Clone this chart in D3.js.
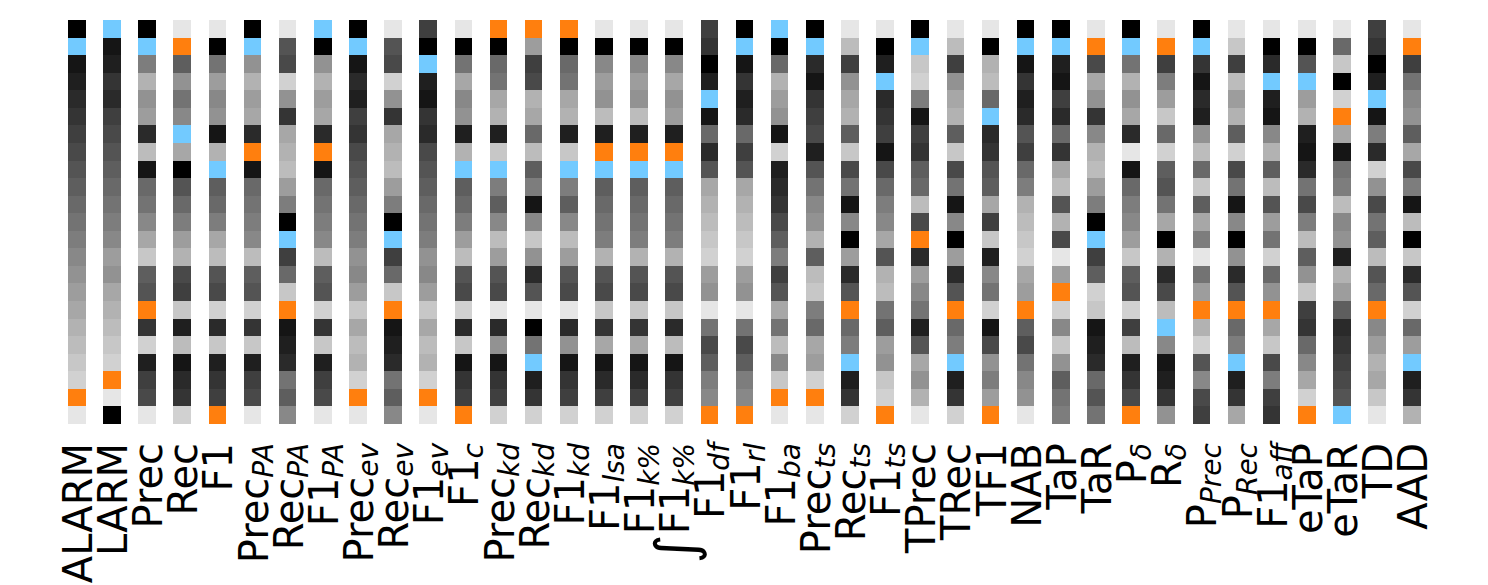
<!DOCTYPE html>
<html>
<head>
<meta charset="utf-8">
<script src="https://cdn.jsdelivr.net/npm/d3@7"></script>
<style>
  html, body { margin: 0; padding: 0; background: #ffffff; }
  svg { display: block; }
  text { font-family: "DejaVu Sans", sans-serif; }
</style>
</head>
<body>
<div id="chart"></div>
<script>
// ---- data -------------------------------------------------------------
// metric labels: prefix, base text, italic subscript
const metricPrefix = ["", "", "", "", "", "", "", "", "", "", "", "", "", "", "", "", "", "∫", "", "", "", "", "", "", "", "", "", "", "", "", "", "", "", "", "", "", "", "", ""];
const metricBase = ["ALARM", "LARM", "Prec", "Rec", "F1", "Prec", "Rec", "F1", "Prec", "Rec", "F1", "F1", "Prec", "Rec", "F1", "F1", "F1", "F1", "F1", "F1", "F1", "Prec", "Rec", "F1", "TPrec", "TRec", "TF1", "NAB", "TaP", "TaR", "P", "R", "P", "P", "F1", "eTaP", "eTaR", "TD", "AAD"];
const metricSub = ["", "", "", "", "", "PA", "PA", "PA", "ev", "ev", "ev", "c", "kd", "kd", "kd", "lsa", "k%", "k%", "df", "rl", "ba", "ts", "ts", "ts", "", "", "", "", "", "", "δ", "δ", "Prec", "Rec", "aff", "", "", "", ""];

// 23 rows (items) in the displayed order, top to bottom
const rowIds = d3.range(23);

// rank of every item under each metric (0 = best … 22 = worst), columns in metric order
const ranks = [
  [0,1,2,3,4,5,6,7,8,9,10,11,12,13,14,15,16,17,18,19,20,21,22],
  [1,2,3,5,4,6,7,8,9,10,11,12,13,15,14,16,17,18,19,20,21,22,0],
  [0,1,12,17,14,15,4,18,2,10,11,13,16,19,9,8,21,5,20,3,6,7,22],
  [22,21,9,14,11,13,1,16,0,8,10,12,15,17,7,6,19,3,18,2,4,5,20],
  [22,0,11,15,13,14,2,17,1,9,10,12,16,18,8,7,20,4,19,3,5,6,21],
  [0,1,14,17,15,16,4,21,2,10,11,12,13,18,9,8,20,5,19,3,6,7,22],
  [22,8,7,20,14,5,16,17,18,15,12,0,1,6,10,19,21,2,3,4,11,9,13],
  [1,0,14,17,15,16,4,21,2,10,11,12,13,18,9,8,20,5,19,3,6,7,22],
  [0,1,2,4,3,6,5,7,8,9,10,11,12,14,13,15,19,16,18,17,20,21,22],
  [22,8,7,20,14,5,16,17,18,15,12,0,1,6,10,19,21,2,3,4,11,9,13],
  [6,0,1,3,2,5,4,7,8,9,10,11,12,14,13,15,19,16,18,17,20,21,22],
  [22,0,11,16,13,14,3,17,1,9,10,12,15,18,8,7,20,4,19,2,5,6,21],
  [21,0,10,11,16,17,3,19,1,12,9,13,18,15,8,7,22,4,14,2,5,6,20],
  [21,15,6,7,17,16,10,18,9,12,2,13,19,14,4,8,22,0,11,1,3,5,20],
  [21,0,10,11,16,17,3,19,1,12,9,13,18,15,8,7,22,4,14,2,5,6,20],
  [22,0,13,15,14,18,3,21,1,9,10,11,12,17,8,7,19,5,16,2,4,6,20],
  [22,0,13,15,14,18,3,21,1,9,10,11,12,17,8,7,19,5,16,2,4,6,20],
  [22,0,13,16,14,15,3,21,1,9,10,11,12,17,8,7,19,4,18,2,5,6,20],
  [6,5,0,3,1,2,10,4,8,16,17,18,19,20,15,14,22,11,7,9,12,13,21],
  [0,1,2,5,3,4,10,6,8,16,17,18,19,20,15,14,22,11,7,9,12,13,21],
  [1,0,10,17,15,14,2,20,3,4,5,7,9,12,6,8,16,11,18,13,19,21,22],
  [0,1,4,2,5,6,7,3,8,11,13,14,17,9,18,19,12,10,16,15,20,21,22],
  [22,18,6,14,16,17,9,19,7,11,2,13,0,15,4,8,21,10,12,1,3,5,20],
  [22,0,3,1,4,5,6,2,7,10,12,13,16,8,17,18,11,9,15,14,19,20,21],
  [0,1,19,20,12,2,6,5,9,10,18,7,21,4,15,13,11,3,8,16,14,17,22],
  [22,18,6,14,16,17,9,19,7,11,2,13,0,15,4,8,21,10,12,1,3,5,20],
  [22,0,17,18,10,1,4,5,8,9,16,6,19,3,13,11,20,2,7,14,12,15,21],
  [0,1,2,5,3,4,8,6,10,12,17,18,19,20,16,15,21,9,7,11,13,14,22],
  [0,1,3,2,6,4,10,5,16,18,8,17,7,22,15,21,20,13,19,14,9,11,12],
  [22,21,7,16,14,5,13,17,18,15,12,0,1,6,9,20,19,2,3,4,10,8,11],
  [0,1,11,17,14,16,4,22,2,10,12,13,15,19,9,8,20,6,18,3,5,7,21],
  [22,21,6,12,15,19,10,20,9,8,11,16,0,17,4,7,18,1,13,2,3,5,14],
  [0,1,5,2,4,3,14,18,10,19,9,16,12,22,11,15,21,17,20,8,13,7,6],
  [22,19,6,18,15,17,9,20,7,11,2,13,0,14,4,8,21,10,12,1,3,5,16],
  [22,0,4,1,3,2,13,17,9,18,8,15,11,20,10,14,21,16,19,7,12,6,5],
  [22,0,8,1,15,17,3,2,4,11,7,12,18,9,14,19,6,5,10,13,16,20,21],
  [22,10,19,0,20,21,16,2,11,12,18,13,14,3,17,15,9,4,5,6,7,8,1],
  [6,5,0,3,1,2,12,4,20,14,7,11,9,18,8,10,21,13,15,17,16,19,22],
  [22,21,6,11,13,14,9,16,7,12,2,18,0,19,4,8,20,10,15,1,3,5,17]
];

// highlighted ranks
const highlightRanks = [1, 21];
const highlightColors = ["#72caff", "#ff7f0e"];

// ---- drawing ----------------------------------------------------------
const W = 1488, H = 585;
const svg = d3.select("#chart").append("svg")
  .attr("width", W).attr("height", H)
  .style("background", "#ffffff");

const colKeys = d3.range(metricBase.length);
const x = d3.scaleBand().domain(colKeys).range([68, 1421]).paddingInner(0.5).paddingOuter(0);
const y = d3.scaleBand().domain(rowIds).range([20, 424]).padding(0);
const gray = d3.scaleLinear().domain([0, 22]).range(["#000000", "#e6e6e6"]).interpolate(d3.interpolateRgb);
const highlight = d3.scaleOrdinal().domain(highlightRanks).range(highlightColors);
const color = r => highlightRanks.includes(r) ? highlight(r) : gray(r);

const cells = [];
ranks.forEach((col, ci) => col.forEach((r, ri) => cells.push({ ci, ri, r })));

svg.append("g").selectAll("rect")
  .data(cells)
  .join("rect")
  .attr("x", d => x(d.ci))
  .attr("y", d => y(d.ri))
  .attr("width", x.bandwidth())
  .attr("height", y.bandwidth() + 0.3)
  .attr("fill", d => color(d.r))
  .attr("shape-rendering", "crispEdges");

// labels (rotated, end anchored below the grid)
const labels = svg.append("g").selectAll("text")
  .data(colKeys)
  .join("text")
  .attr("transform", i => `translate(${x(i) + x.bandwidth() / 2 + 15},443) rotate(-90)`)
  .attr("text-anchor", "end")
  .attr("font-size", 40)
  .attr("fill", "#000");

labels.each(function (i) {
  const t = d3.select(this);
  if (metricPrefix[i]) {
    t.append("tspan").attr("font-size", 56).attr("dy", 6).text(metricPrefix[i]);
    t.append("tspan").attr("dy", -6).text(metricBase[i]);
  } else {
    t.append("tspan").text(metricBase[i]);
  }
  if (metricSub[i]) {
    t.append("tspan").attr("font-size", 28).attr("font-style", "italic")
      .attr("dy", 5).text(metricSub[i]);
  }
});
</script>
</body>
</html>
